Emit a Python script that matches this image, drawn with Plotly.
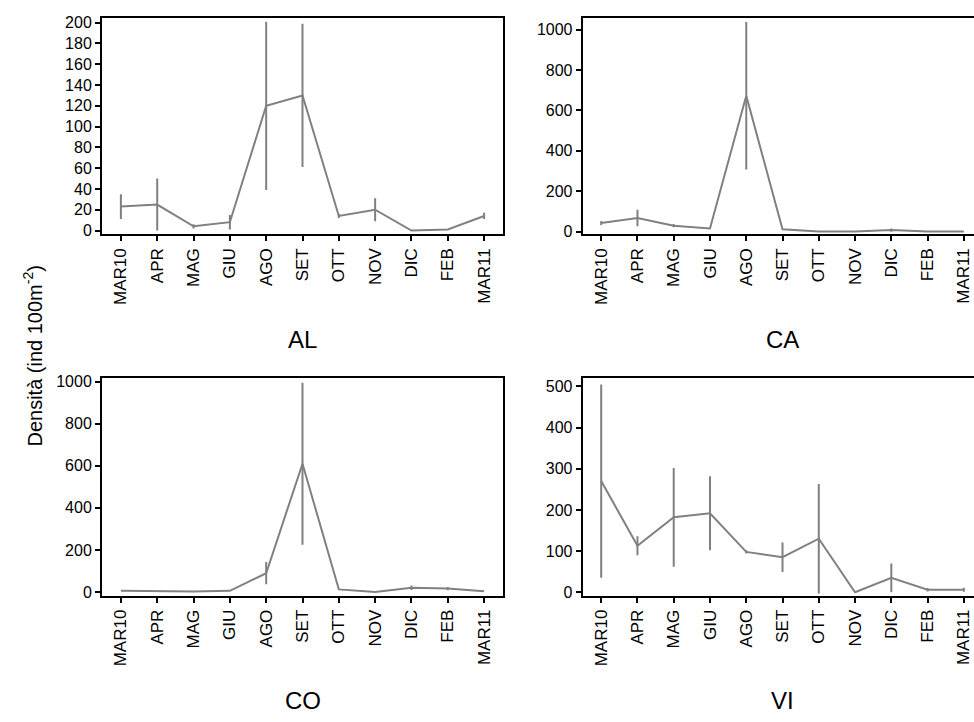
import plotly.graph_objects as go

months = ["MAR10", "APR", "MAG", "GIU", "AGO", "SET", "OTT", "NOV", "DIC", "FEB", "MAR11"]

al_mean = [23, 25, 4, 8, 120, 130, 14, 20, 0, 1, 14]
al_err = [12, 25, 2, 7, 81, 69, 2, 11, 0, 0, 3]

ca_mean = [42, 67, 29, 15, 672, 11, 0, 0, 7, 0, 0]
ca_err = [10, 41, 8, 0, 365, 0, 0, 0, 8, 0, 0]

co_mean = [5, 2, 2, 5, 89, 610, 12, 0, 20, 16, 3]
co_err = [0, 0, 0, 0, 53, 385, 0, 0, 11, 8, 0]

vi_mean = [270, 113, 182, 192, 98, 85, 130, 0, 35, 6, 6]
vi_err = [235, 23, 120, 90, 4, 36, 133, 0, 35, 4, 5]

panels = ["AL", "CA", "CO", "VI"]
y_ticks = [list(range(0, 201, 20)), list(range(0, 1001, 200)),
           list(range(0, 1001, 200)), list(range(0, 501, 100))]
y_ranges = [[-3.8, 204.7], [-14.6, 1058], [-18.75, 1017], [-8.9, 520]]
series = [(al_mean, al_err), (ca_mean, ca_err), (co_mean, co_err), (vi_mean, vi_err)]

W, H = 974, 722
x_doms = [[102 / W, 503 / W], [582.7 / W, 1.0], [102 / W, 503 / W], [582.7 / W, 1.0]]
x_ranges = [[-0.52, 10.52], [-0.51, 10.28], [-0.52, 10.52], [-0.51, 10.28]]
y_doms = [[1 - 233 / H, 1 - 13 / H], [1 - 233 / H, 1 - 13 / H],
          [1 - 600 / H, 1 - 379 / H], [1 - 600 / H, 1 - 379 / H]]
title_y = [1 - 340 / H, 1 - 340 / H, 1 - 706 / H, 1 - 706 / H]

GRAY = "#808080"
FONT = "Liberation Sans, Arial, sans-serif"

fig = go.Figure()
for i, (m, e) in enumerate(series):
    sfx = "" if i == 0 else str(i + 1)
    fig.add_trace(go.Scatter(
        x=months, y=m, mode="lines",
        line=dict(color=GRAY, width=2),
        error_y=dict(type="data", array=e, symmetric=True, color=GRAY, thickness=2, width=0),
        xaxis="x" + sfx, yaxis="y" + sfx, showlegend=False, hoverinfo="skip"))

layout = dict(
    width=W, height=H, margin=dict(l=0, r=0, t=0, b=0),
    paper_bgcolor="white", plot_bgcolor="white",
    font=dict(family=FONT, color="black"),
    showlegend=False,
)
annotations = []
for i in range(4):
    sfx = "" if i == 0 else str(i + 1)
    right_clipped = i in (1, 3)
    layout["xaxis" + sfx] = dict(
        domain=x_doms[i], anchor="y" + sfx, type="category",
        categoryorder="array", categoryarray=months,
        range=x_ranges[i], showgrid=False, zeroline=False,
        showline=True, linecolor="black", linewidth=2,
        mirror=True, ticks="outside", ticklen=5, tickwidth=2, tickcolor="black",
        tickangle=-90, tickfont=dict(size=17, family=FONT, color="black"),
        fixedrange=True)
    layout["yaxis" + sfx] = dict(
        domain=y_doms[i], anchor="x" + sfx, range=y_ranges[i],
        tickvals=y_ticks[i], showgrid=False, zeroline=False,
        showline=True, linecolor="black", linewidth=2,
        mirror=(not right_clipped), ticks="outside", ticklen=5, tickwidth=2,
        tickcolor="black", tickfont=dict(size=16, family=FONT, color="black"),
        fixedrange=True)
    annotations.append(dict(
        text=panels[i], xref="paper", yref="paper",
        x=(x_doms[i][0] + (x_doms[i][1] if not right_clipped else 983 / W)) / 2,
        y=title_y[i], xanchor="center", yanchor="middle", showarrow=False,
        font=dict(size=24, family=FONT, color="black")))

annotations.append(dict(
    text="Densità (ind 100m<sup>-2</sup>)", xref="paper", yref="paper",
    x=33 / W, y=1 - 357 / H, xanchor="center", yanchor="middle",
    textangle=-90, showarrow=False,
    font=dict(size=20, family=FONT, color="black")))
layout["annotations"] = annotations

fig.update_layout(**layout)
fig.write_html("out.html")
